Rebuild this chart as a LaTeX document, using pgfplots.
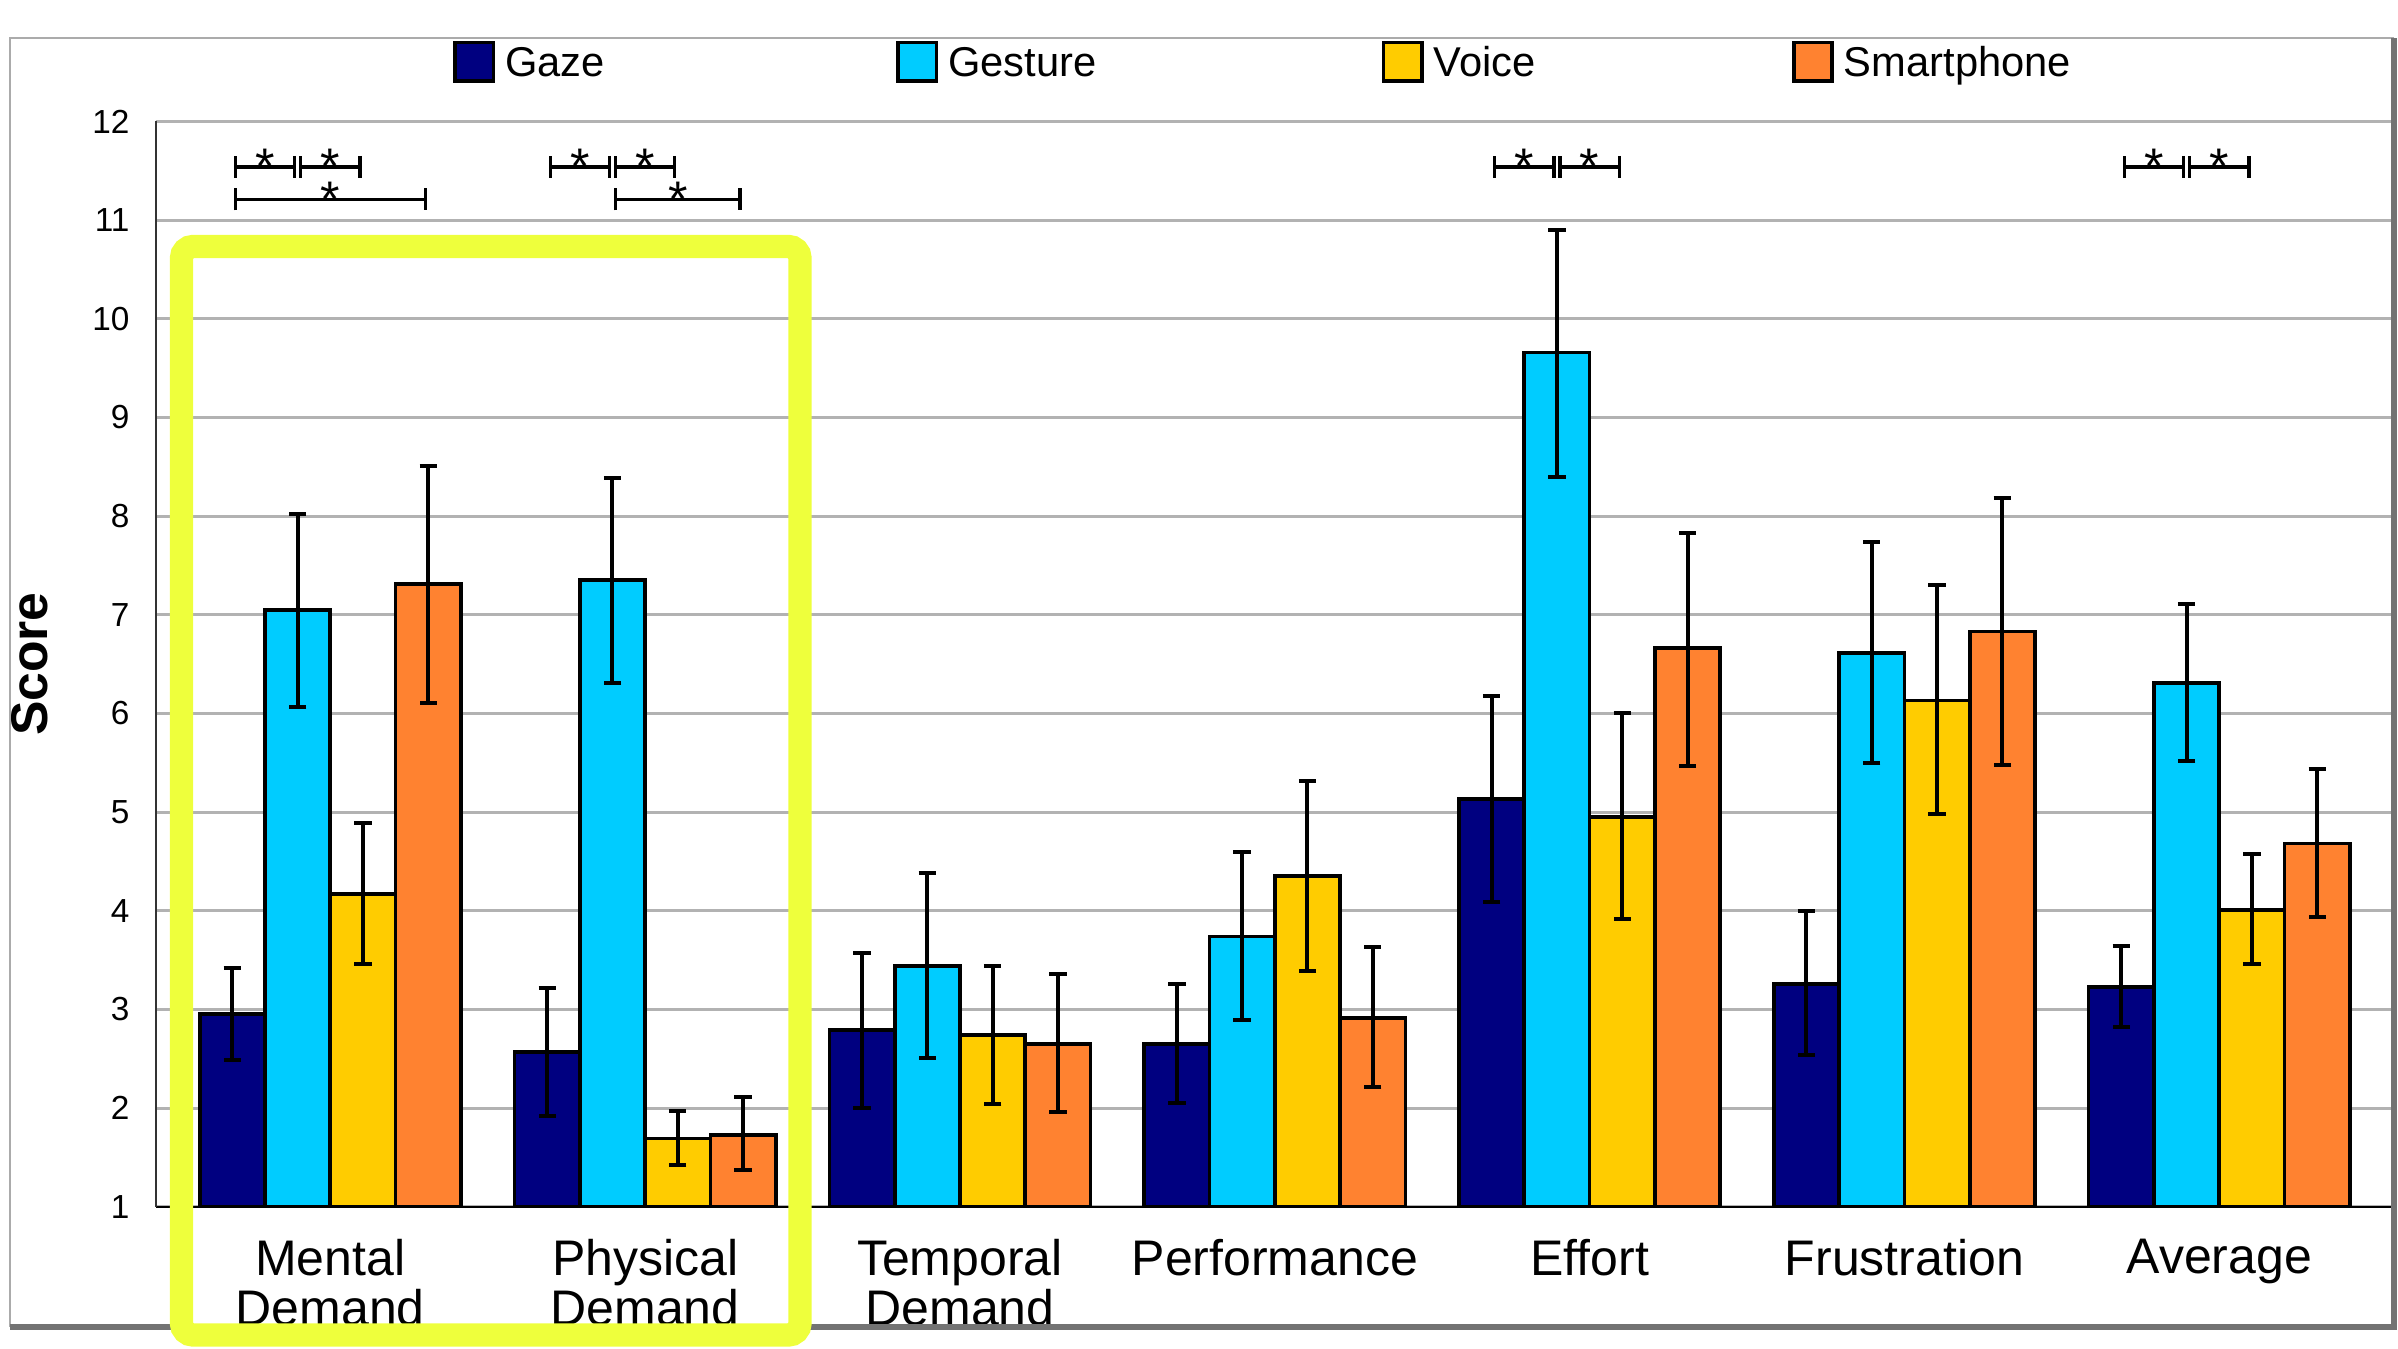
\documentclass[border=0pt]{standalone}
\usepackage{fontspec}
\setmainfont{Liberation Sans}
\usepackage{pgfplots}
\pgfplotsset{compat=1.18}
\usepackage{pgfplotstable}
\usetikzlibrary{arrows.meta}

\definecolor{cgaze}{RGB}{0,0,128}
\definecolor{cgest}{RGB}{0,204,255}
\definecolor{cvoice}{RGB}{255,204,0}
\definecolor{csmart}{RGB}{255,130,48}
\definecolor{hl}{RGB}{238,255,60}
\definecolor{gridc}{RGB}{178,178,178}
\definecolor{framec}{RGB}{115,115,115}

% x = category index (0 Mental Demand ... 6 Average), y = mean, ep/em = error up/down
\pgfplotstableread{
x y ep em
0 2.95 0.47 0.46
1 2.57 0.65 0.65
2 2.79 0.78 0.79
3 2.65 0.61 0.60
4 5.13 1.05 1.04
5 3.26 0.74 0.72
6 3.23 0.41 0.41
}\gaze
\pgfplotstableread{
x y ep em
0 7.05 0.97 0.98
1 7.35 1.04 1.04
2 3.44 0.94 0.93
3 3.74 0.86 0.85
4 9.66 1.24 1.26
5 6.61 1.13 1.11
6 6.31 0.80 0.79
}\gesture
\pgfplotstableread{
x y ep em
0 4.17 0.72 0.71
1 1.69 0.28 0.27
2 2.74 0.70 0.70
3 4.35 0.97 0.96
4 4.95 1.05 1.03
5 6.13 1.17 1.15
6 4.01 0.57 0.55
}\voice
\pgfplotstableread{
x y ep em
0 7.31 1.20 1.20
1 1.73 0.38 0.36
2 2.65 0.71 0.69
3 2.91 0.72 0.70
4 6.66 1.17 1.19
5 6.83 1.35 1.35
6 4.68 0.76 0.74
}\smart

\pgfplotsset{
  mybar/.style={fill=#1, draw=black, line width=1.1pt,
    error bars/.cd, y dir=both, y explicit,
    error bar style={line width=1.2pt, black},
    error mark options={rotate=90, line width=1.2pt, mark size=2.6pt, black}},
}

\begin{document}
\begin{tikzpicture}
\useasboundingbox (0,0) rectangle (719.4pt,404.4pt);
\begin{axis}[
  at={(46.68pt,42.39pt)}, anchor=south west,
  scale only axis, width=671.5pt, height=325.56pt,
  xmin=-0.555, xmax=6.555, ymin=1, ymax=12,
  ybar=0pt, bar width=0.2074,
  axis x line=bottom, axis y line=left,
  axis line style={-, line width=0.6pt},
  x axis line style={black}, y axis line style={black!80},
  xtick={0,...,6},
  xticklabels={{Mental\\Demand},{Physical\\Demand},{Temporal\\Demand},Performance,Effort,Frustration,Average},
  xticklabel style={align=center, font=\fontsize{15}{15.2}\selectfont, yshift=-4pt},
  ytick={1,...,12},
  yticklabel style={font=\fontsize{10}{11}\selectfont, xshift=-2.2pt},
  /pgf/number format/assume math mode=true,
  tick style={draw=none},
  ymajorgrids, grid style={gridc, line width=0.9pt},
  ylabel={Score},
  ylabel style={font=\fontsize{15.5}{15.5}\selectfont\bfseries, at={(axis description cs:-0.0561,0.5)}, anchor=center},
  legend columns=4,
  legend style={draw=none, fill=none, at={(axis description cs:0.1327,1.0551)}, anchor=west,
    inner xsep=0pt, inner ysep=0pt, column sep=0pt,
    nodes={inner xsep=1pt, inner ysep=1pt},
    font=\fontsize{12.5}{14}\selectfont},
  every axis plot post/.append style={legend image code/.code={\draw[#1, line width=1.1pt] (0pt,-5.75pt) rectangle (11.5pt,5.75pt);}},
]
\addplot[mybar=cgaze] table[x=x, y=y, y error plus=ep, y error minus=em] {\gaze};
\addlegendentry{\makebox[118.3pt][l]{\hspace{2pt}\raisebox{-1.5pt}{Gaze}}}
\addplot[mybar=cgest] table[x=x, y=y, y error plus=ep, y error minus=em] {\gesture};
\addlegendentry{\makebox[131pt][l]{\hspace{2pt}\raisebox{-1.5pt}{Gesture}}}
\addplot[mybar=cvoice] table[x=x, y=y, y error plus=ep, y error minus=em] {\voice};
\addlegendentry{\makebox[108.5pt][l]{\hspace{2pt}\raisebox{-1.5pt}{Voice}}}
\addplot[mybar=csmart] table[x=x, y=y, y error plus=ep, y error minus=em] {\smart};
\addlegendentry{\hspace{2pt}\raisebox{-1.5pt}{Smartphone}}

% significance brackets
\tikzset{sig/.style={line width=1pt, {Bar[width=6.6pt]}-{Bar[width=6.6pt]}, shorten <=0.4pt, shorten >=0.4pt},
         star/.style={font=\fontsize{15}{15}\selectfont, anchor=base, yshift=-5pt, inner sep=0pt}}
\draw[sig] (axis cs:-0.3111,11.54) -- (axis cs:-0.1037,11.54);
\draw[sig] (axis cs:-0.1037,11.54) -- (axis cs:0.1037,11.54);
\draw[sig] (axis cs:-0.3111,11.21) -- (axis cs:0.3111,11.21);
\node[star] at (axis cs:-0.2074,11.54) {*};
\node[star] at (axis cs:0,11.54) {*};
\node[star] at (axis cs:0,11.21) {*};
\draw[sig] (axis cs:0.6889,11.54) -- (axis cs:0.8963,11.54);
\draw[sig] (axis cs:0.8963,11.54) -- (axis cs:1.1037,11.54);
\draw[sig] (axis cs:0.8963,11.21) -- (axis cs:1.3111,11.21);
\node[star] at (axis cs:0.7926,11.54) {*};
\node[star] at (axis cs:1,11.54) {*};
\node[star] at (axis cs:1.1037,11.21) {*};
\draw[sig] (axis cs:3.6889,11.54) -- (axis cs:3.8963,11.54);
\draw[sig] (axis cs:3.8963,11.54) -- (axis cs:4.1037,11.54);
\node[star] at (axis cs:3.7926,11.54) {*};
\node[star] at (axis cs:4,11.54) {*};
\draw[sig] (axis cs:5.6889,11.54) -- (axis cs:5.8963,11.54);
\draw[sig] (axis cs:5.8963,11.54) -- (axis cs:6.1037,11.54);
\node[star] at (axis cs:5.7926,11.54) {*};
\node[star] at (axis cs:6,11.54) {*};
\end{axis}
% outer frame
\draw[framec!60, line width=0.6pt] (3pt,6.39pt) -- (3pt,392.85pt) -- (718.1pt,392.85pt);
\draw[framec, line width=1.8pt] (718.1pt,392.85pt) -- (718.1pt,6.39pt) -- (3pt,6.39pt);
% highlight box
\draw[hl, line width=7pt, rounded corners=3.5pt] (54.45pt,3.9pt) rectangle (240pt,330.45pt);
\end{tikzpicture}
\end{document}
